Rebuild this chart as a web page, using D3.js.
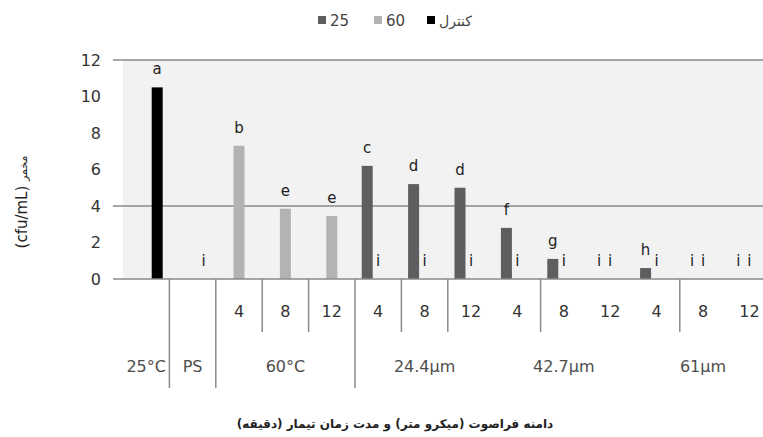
<!DOCTYPE html>
<html lang="fa">
<head>
<meta charset="UTF-8">
<title>cfu/mL chart</title>
<script src="https://d3js.org/d3.v7.min.js"></script>
<style>
  body { margin: 0; background: #fff; }
  svg { display: block; font-family: "DejaVu Sans", Verdana, sans-serif; }
</style>
</head>
<body>
<svg width="763" height="437"></svg>
<script>
// categories along the x axis (14 slots)
const categories = ["25°C", "PS", "60°C-4", "60°C-8", "60°C-12",
  "24.4µm-4", "24.4µm-8", "24.4µm-12", "42.7µm-4", "42.7µm-8", "42.7µm-12",
  "61µm-4", "61µm-8", "61µm-12"];
const timeLabels = ["", "", "4", "8", "12", "4", "8", "12", "4", "8", "12", "4", "8", "12"];
const groupNames = ["25°C", "PS", "60°C", "24.4µm", "42.7µm", "61µm"];
const groupIndex = [0, 1, 2, 2, 2, 3, 3, 3, 4, 4, 4, 5, 5, 5];

// series (legend order)
const seriesNames = ["25", "60", "کنترل"];
const seriesColors = ["#5e5e5e", "#b3b3b3", "#000000"];
const values25 = [null, null, null, null, null, 6.2, 5.2, 5.0, 2.8, 1.1, 0, 0.6, 0, 0];
const labels25 = ["", "", "", "", "", "c", "d", "d", "f", "g", "i", "h", "i", "i"];
const values60 = [null, null, 7.3, 3.85, 3.45, 0, 0, 0, 0, 0, 0, 0, 0, 0];
const labels60 = ["", "", "b", "e", "e", "i", "i", "i", "i", "i", "i", "i", "i", "i"];
const valuesControl = [10.5, 0, null, null, null, null, null, null, null, null, null, null, null, null];
const labelsControl = ["a", "i", "", "", "", "", "", "", "", "", "", "", "", ""];

const yTicks = [0, 2, 4, 6, 8, 10, 12];
const gridValues = [4, 12];
// category separators below the axis (index of the category they sit left of)
const fullDividers = [1, 2, 5];
const shortDividers = [3, 4, 6, 7, 9, 12];

const yTitleFa = "مخمر";
const yTitleUnit = "(cfu/mL)";
const xTitle = "دامنه فراصوت (میکرو متر) و مدت زمان تیمار (دقیقه)";

const svg = d3.select("svg");
const x = d3.scaleBand().domain(categories).range([123, 772.6]);
const xs = d3.scaleBand().domain(seriesNames).range([-16.5, 16.5]);
const y = d3.scaleLinear().domain([0, 12]).range([279, 60]);
const lineColor = "#8a8a8a";

// plot background
svg.append("rect")
  .attr("x", x.range()[0]).attr("y", y(12))
  .attr("width", 763 - x.range()[0]).attr("height", y(0) - y(12))
  .attr("fill", "#f2f2f2");

// grid lines
svg.selectAll(".grid").data(gridValues).enter().append("line")
  .attr("x1", 113).attr("x2", 763)
  .attr("y1", d => y(d)).attr("y2", d => y(d))
  .attr("stroke", lineColor).attr("stroke-width", 1.5);

// y tick labels
svg.selectAll(".ytick").data(yTicks).enter().append("text")
  .attr("x", 101).attr("y", d => y(d))
  .attr("dy", "0.36em").attr("text-anchor", "end")
  .attr("font-size", 16).attr("fill", "#333")
  .text(d => d);

// bars + letters
const seriesData = [
  { name: "25", values: values25, labels: labels25 },
  { name: "60", values: values60, labels: labels60 },
  { name: "کنترل", values: valuesControl, labels: labelsControl }
];
const pts = [];
seriesData.forEach((s, si) => {
  s.values.forEach((v, i) => {
    if (v !== null) pts.push({ cat: categories[i], s: s.name, v: v, label: s.labels[i], color: seriesColors[si] });
  });
});
const cx = d => x(d.cat) + x.bandwidth() / 2 + xs(d.s) + xs.bandwidth() / 2;

svg.selectAll(".bar").data(pts.filter(d => d.v > 0)).enter().append("rect")
  .attr("x", d => cx(d) - xs.bandwidth() / 2)
  .attr("y", d => y(d.v))
  .attr("width", xs.bandwidth())
  .attr("height", d => y(0) - y(d.v))
  .attr("fill", d => d.color);

svg.selectAll(".lbl").data(pts.filter(d => d.label)).enter().append("text")
  .attr("x", cx).attr("y", d => y(d.v) - 13)
  .attr("text-anchor", "middle").attr("font-size", 15).attr("fill", "#222")
  .text(d => d.label);

// x axis line
svg.append("line")
  .attr("x1", 113).attr("x2", 763).attr("y1", y(0)).attr("y2", y(0))
  .attr("stroke", lineColor).attr("stroke-width", 1.5);

// separators
svg.selectAll(".divF").data(fullDividers).enter().append("line")
  .attr("x1", d => x(categories[d])).attr("x2", d => x(categories[d]))
  .attr("y1", y(0)).attr("y2", 388)
  .attr("stroke", lineColor).attr("stroke-width", 1.5);
svg.selectAll(".divS").data(shortDividers).enter().append("line")
  .attr("x1", d => x(categories[d])).attr("x2", d => x(categories[d]))
  .attr("y1", y(0)).attr("y2", 332)
  .attr("stroke", lineColor).attr("stroke-width", 1.5);

// time labels
svg.selectAll(".tl").data(categories).enter().append("text")
  .attr("x", d => x(d) + x.bandwidth() / 2).attr("y", 317)
  .attr("text-anchor", "middle").attr("font-size", 16).attr("fill", "#333")
  .text((d, i) => timeLabels[i]);

// group labels
svg.selectAll(".gl").data(groupNames).enter().append("text")
  .attr("x", (d, gi) => {
    const cats = categories.filter((c, i) => groupIndex[i] === gi);
    return (x(cats[0]) + x(cats[cats.length - 1]) + x.bandwidth()) / 2;
  })
  .attr("y", 372)
  .attr("text-anchor", "middle").attr("font-size", 16).attr("fill", "#4d4d4d")
  .text(d => d);

// legend
const legX = [318, 374, 427];
seriesNames.forEach((n, i) => {
  svg.append("rect").attr("x", legX[i]).attr("y", 16).attr("width", 8).attr("height", 8).attr("fill", seriesColors[i]);
  svg.append("text").attr("x", legX[i] + 12).attr("y", 26)
    .attr("font-size", i === 2 ? 14 : 15).attr("fill", "#444")
    .attr("direction", "ltr")
    .text(n);
});

// y title
svg.append("text")
  .attr("transform", "translate(27,202) rotate(-90)")
  .attr("text-anchor", "middle").attr("fill", "#222")
  .call(t => {
    t.append("tspan").attr("font-size", 15).text(yTitleUnit + " ");
    t.append("tspan").attr("font-size", 11).text(yTitleFa);
  });

// x title
svg.append("text")
  .attr("x", 395).attr("y", 428)
  .attr("text-anchor", "middle").attr("font-size", 12).attr("font-weight", "bold")
  .attr("fill", "#222")
  .text(xTitle);
</script>
</body>
</html>
